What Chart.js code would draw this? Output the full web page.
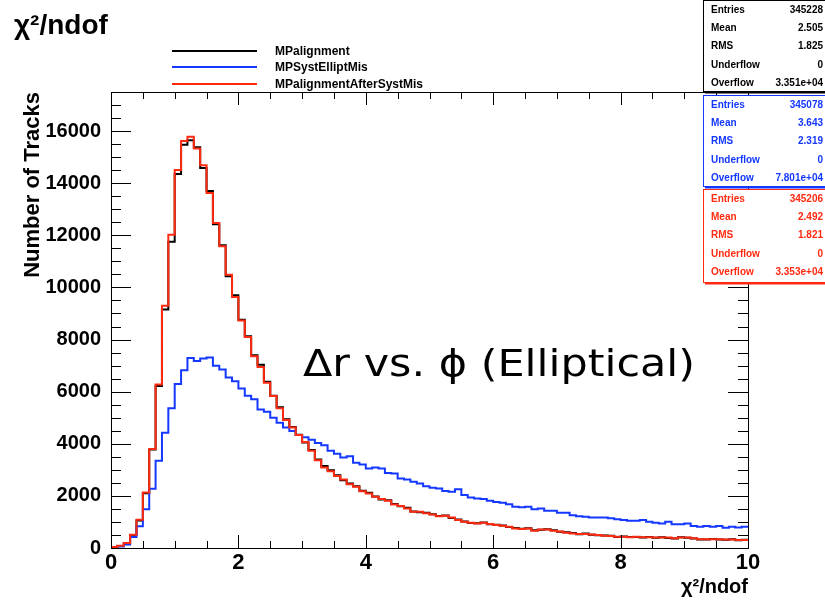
<!DOCTYPE html>
<html>
<head>
<meta charset="utf-8">
<script src="https://cdn.jsdelivr.net/npm/chart.js@4"></script>
<style>
  body { margin: 0; background: #fff; }
  canvas { display: block; }
</style>
</head>
<body>
<canvas id="histo" width="825" height="602"></canvas>
<script>
// bins of 0.1 in chi2/ndof, 0..10
const xMin = 0;
const xMax = 10;
const binWidth = 0.1;

const seriesNames = ["MPalignment", "MPSystElliptMis", "MPalignmentAfterSystMis"];
const seriesColors = ["#000000", "#1438ff", "#ff2a10"];

const mpAlignment = [
  30, 80, 180, 500, 1060, 2100, 3780, 6220, 9150, 11750,
  14350, 15480, 15650, 15380, 14580, 13700, 12420, 11620, 10430, 9700,
  8760, 8130, 7400, 7030, 6380, 5840, 5400, 4940, 4640, 4350,
  4050, 3760, 3400, 3150, 2980, 2790, 2600, 2480, 2370, 2200,
  2120, 1980, 1860, 1830, 1690, 1600, 1540, 1400, 1370, 1350,
  1300, 1230, 1250, 1150, 1090, 1020, 960, 950, 980, 910,
  890, 860, 810, 770, 740, 760, 680, 700, 720, 680,
  620, 600, 580, 530, 560, 510, 490, 480, 470, 420,
  440, 420, 420, 400, 420, 390, 410, 380, 360, 410,
  390, 360, 330, 330, 350, 330, 320, 340, 300, 320
];

const mpSystElliptMis = [
  0, 60, 130, 420, 830, 1490, 2270, 3350, 4420, 5360,
  6290, 6820, 7290, 7180, 7270, 7310, 6990, 6850, 6540, 6400,
  6120, 5840, 5710, 5320, 5230, 5000, 4810, 4620, 4490, 4340,
  4250, 4150, 4030, 3940, 3730, 3620, 3470, 3520, 3270, 3200,
  3050, 3090, 3050, 2880, 2860, 2670, 2630, 2540, 2480, 2370,
  2310, 2280, 2190, 2160, 2250, 2030, 1940, 1900, 1880, 1810,
  1770, 1740, 1680, 1580, 1560, 1580, 1490, 1520, 1430, 1430,
  1350, 1350, 1260, 1220, 1200, 1170, 1170, 1170, 1140, 1100,
  1070, 1050, 1050, 1070, 1010, 970, 940, 1010, 910, 910,
  940, 840, 820, 840, 820, 840, 780, 820, 790, 820
];

const mpAlignmentAfterSystMis = [
  40, 90, 190, 510, 1080, 2130, 3800, 6270, 9300, 12020,
  14510, 15620, 15780, 15330, 14690, 13620, 12470, 11580, 10490, 9630,
  8730, 8100, 7360, 6950, 6340, 5830, 5360, 4910, 4620, 4340,
  4070, 3730, 3370, 3090, 2950, 2760, 2630, 2450, 2350, 2180,
  2090, 1970, 1880, 1810, 1670, 1610, 1520, 1390, 1390, 1330,
  1290, 1220, 1240, 1170, 1070, 1010, 970, 940, 970, 920,
  880, 850, 820, 750, 730, 750, 660, 710, 710, 660,
  630, 590, 560, 540, 540, 520, 500, 470, 460, 430,
  430, 410, 430, 410, 410, 400, 400, 400, 370, 400,
  400, 370, 340, 340, 340, 340, 330, 330, 310, 310
];

const yMax = 17500;
const yTickValues = [0, 2000, 4000, 6000, 8000, 10000, 12000, 14000, 16000];
const xTickValues = [0, 2, 4, 6, 8, 10];
const yMajor = 2000, yMinor = 500;
const xMajor = 2, xMinor = 0.5;

// stat boxes
const statNames = ["Entries", "Mean", "RMS", "Underflow", "Overflow"];
const statsAlignment = ["345228", "2.505", "1.825", "0", "3.351e+04"];
const statsElliptMis = ["345078", "3.643", "2.319", "0", "7.801e+04"];
const statsAfterSystMis = ["345206", "2.492", "1.821", "0", "3.353e+04"];

function histPoints(vals) {
  const pts = vals.map((v, i) => ({ x: xMin + i * binWidth, y: v }));
  pts.push({ x: xMax, y: vals[vals.length - 1] });
  return pts;
}

const FONT = "'Liberation Sans', Arial, Helvetica, sans-serif";

const frameTicks = {
  id: "frameTicks",
  afterDatasetsDraw(chart) {
    const { ctx, chartArea: a, scales: { x, y } } = chart;
    ctx.save();
    ctx.strokeStyle = "#000";
    ctx.lineWidth = 1;
    ctx.strokeRect(a.left + 0.5, a.top + 0.5, a.width, a.height);
    ctx.beginPath();
    for (let v = 0; v <= yMax; v += yMinor) {
      const py = Math.round(y.getPixelForValue(v)) + 0.5;
      const len = v % yMajor === 0 ? 20 : 10;
      ctx.moveTo(a.left, py); ctx.lineTo(a.left + len, py);
      ctx.moveTo(a.right, py); ctx.lineTo(a.right - len, py);
    }
    for (let k = 0; k * xMinor <= xMax; k++) {
      const v = k * xMinor;
      const px = Math.round(x.getPixelForValue(v)) + 0.5;
      const len = v % xMajor === 0 ? 13 : 7;
      ctx.moveTo(px, a.bottom); ctx.lineTo(px, a.bottom - len);
      ctx.moveTo(px, a.top); ctx.lineTo(px, a.top + len);
    }
    ctx.stroke();
    ctx.restore();
  },
  afterDraw(chart) {
    const ctx = chart.ctx;
    ctx.save();

    // title top left
    ctx.fillStyle = "#000";
    ctx.textBaseline = "alphabetic";
    ctx.textAlign = "left";
    ctx.font = "bold 28px " + FONT;
    ctx.fillText("\u03c7\u00b2/ndof", 14, 34);

    // annotation, stretched to the reference width
    const note = "\u0394r vs. \u03d5 (Elliptical)";
    ctx.font = "38px 'DejaVu Sans', sans-serif";
    const w = ctx.measureText(note).width;
    ctx.save();
    ctx.translate(303, 376);
    ctx.scale(392 / w, 1);
    ctx.fillText(note, 0, 0);
    ctx.restore();

    // legend
    const legY = [51, 67, 84];
    ctx.font = "bold 12px " + FONT;
    ctx.textBaseline = "middle";
    seriesNames.forEach((name, i) => {
      ctx.strokeStyle = seriesColors[i];
      ctx.lineWidth = 2;
      ctx.beginPath();
      ctx.moveTo(172, legY[i]);
      ctx.lineTo(257, legY[i]);
      ctx.stroke();
      ctx.fillStyle = "#000";
      ctx.fillText(name, 275, legY[i] + 1);
    });

    // stat boxes
    const boxes = [
      { top: 0, h: 91, color: "#000000", vals: statsAlignment },
      { top: 95, h: 91, color: "#1438ff", vals: statsElliptMis },
      { top: 189, h: 93, color: "#ff2a10", vals: statsAfterSystMis }
    ];
    ctx.font = "bold 10px " + FONT;
    boxes.forEach(b => {
      ctx.fillStyle = "#fff";
      ctx.fillRect(703, b.top, 122, b.h);
      ctx.strokeStyle = b.color;
      ctx.lineWidth = 1;
      ctx.strokeRect(703.5, b.top + 0.5, 125, b.h);
      ctx.lineWidth = 2;
      ctx.beginPath();
      ctx.moveTo(705, b.top + b.h + 1.5);
      ctx.lineTo(825, b.top + b.h + 1.5);
      ctx.stroke();
      ctx.fillStyle = b.color;
      statNames.forEach((n, r) => {
        const ty = b.top + 10 + r * 18.3;
        ctx.textAlign = "left";
        ctx.fillText(n, 711, ty);
        ctx.textAlign = "right";
        ctx.fillText(b.vals[r], 823, ty);
      });
    });
    ctx.restore();
  }
};

const ctx = document.getElementById("histo").getContext("2d");

new Chart(ctx, {
  type: "line",
  data: {
    datasets: [
      { label: seriesNames[0], data: histPoints(mpAlignment), borderColor: seriesColors[0], order: 2 },
      { label: seriesNames[1], data: histPoints(mpSystElliptMis), borderColor: seriesColors[1], order: 1 },
      { label: seriesNames[2], data: histPoints(mpAlignmentAfterSystMis), borderColor: seriesColors[2], order: 0 }
    ]
  },
  options: {
    responsive: false,
    animation: false,
    layout: { padding: { left: 0, right: 77, top: 92, bottom: 0 } },
    elements: {
      line: { borderWidth: 2, stepped: "before", tension: 0, fill: false },
      point: { radius: 0 }
    },
    plugins: {
      legend: { display: false },
      tooltip: { enabled: false }
    },
    scales: {
      x: {
        type: "linear",
        min: xMin,
        max: xMax,
        grid: { display: false, drawTicks: false },
        border: { display: false },
        afterBuildTicks: s => { s.ticks = xTickValues.map(v => ({ value: v })); },
        ticks: {
          color: "#000",
          padding: 2,
          maxRotation: 0,
          autoSkip: false,
          font: { family: FONT, size: 22, weight: "bold" }
        },
        title: {
          display: true,
          text: "\u03c7\u00b2/ndof",
          align: "end",
          color: "#000",
          padding: { top: 0, bottom: 3 },
          font: { family: FONT, size: 20, weight: "bold" }
        },
        afterFit: s => { s.height = 54; }
      },
      y: {
        min: 0,
        max: yMax,
        grid: { display: false, drawTicks: false },
        border: { display: false },
        afterBuildTicks: s => { s.ticks = yTickValues.map(v => ({ value: v })); },
        ticks: {
          color: "#000",
          padding: 10,
          autoSkip: false,
          callback: v => String(v),
          font: { family: FONT, size: 20, weight: "bold" }
        },
        title: {
          display: true,
          text: "Number of Tracks",
          align: "end",
          color: "#000",
          padding: { top: 20, bottom: 0 },
          font: { family: FONT, size: 22, weight: "bold" }
        },
        afterFit: s => { s.width = 111; }
      }
    }
  },
  plugins: [frameTicks]
});
</script>
</body>
</html>
